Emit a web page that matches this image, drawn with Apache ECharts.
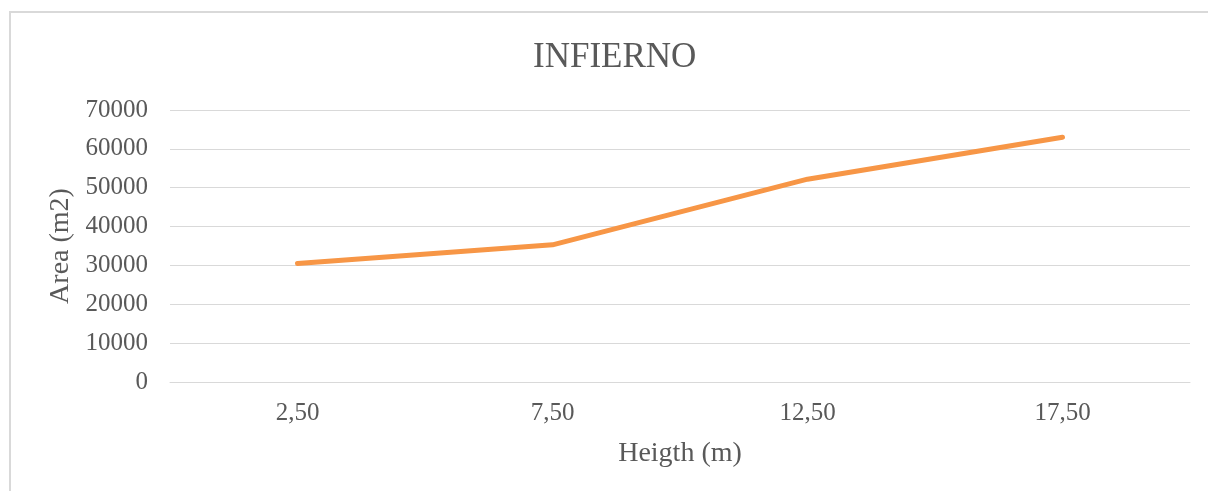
<!DOCTYPE html>
<html>
<head>
<meta charset="utf-8">
<script src="https://cdn.jsdelivr.net/npm/echarts@6/dist/echarts.min.js"></script>
<style>
  html, body { margin: 0; padding: 0; background: #fff; }
  #chart { width: 1208px; height: 491px; }
</style>
</head>
<body>
<div id="chart"></div>
<script>
// Heights (m) along the x axis
const heights = ['2,50', '7,50', '12,50', '17,50'];
// Area (m2) at each height
const areas = [30500, 35300, 52200, 63000];
// Value axis range
const yMin = 0, yMax = 70000, yStep = 10000;

const textColor = '#595959';
const serif = 'Liberation Serif';

const chart = echarts.init(document.getElementById('chart'));
chart.setOption({
  animation: false,
  backgroundColor: '#ffffff',
  title: {
    text: 'INFIERNO',
    left: 528,
    top: 35,
    textStyle: { fontFamily: serif, fontSize: 35, fontWeight: 'normal', color: textColor }
  },
  graphic: [{
    type: 'rect',
    silent: true,
    shape: { x: 10, y: 12, width: 1210, height: 500 },
    style: { fill: 'none', stroke: '#d9d9d9', lineWidth: 2 }
  }],
  grid: { left: 170, right: 18, top: 110, bottom: 109 },
  xAxis: {
    type: 'category',
    data: heights,
    boundaryGap: true,
    name: 'Heigth (m)',
    nameLocation: 'middle',
    nameGap: 58,
    nameTextStyle: { fontFamily: serif, fontSize: 28, color: textColor },
    axisLine: { show: true, lineStyle: { color: '#d9d9d9', width: 1 } },
    axisTick: { show: false },
    axisLabel: { fontFamily: serif, fontSize: 25, color: textColor, margin: 19 }
  },
  yAxis: {
    type: 'value',
    min: yMin,
    max: yMax,
    interval: yStep,
    name: 'Area (m2)',
    nameLocation: 'middle',
    nameGap: 95,
    nameRotate: 90,
    nameTextStyle: { fontFamily: serif, fontSize: 28, color: textColor },
    axisLine: { show: false },
    axisTick: { show: false },
    axisLabel: {
      fontFamily: serif, fontSize: 25, color: textColor, margin: 22,
      formatter: (v) => String(v)
    },
    splitLine: { lineStyle: { color: '#d9d9d9', width: 1 } }
  },
  series: [{
    type: 'line',
    data: areas,
    symbol: 'none',
    lineStyle: { color: '#f79646', width: 5, cap: 'round', join: 'round' },
    itemStyle: { color: '#f79646' }
  }]
});
</script>
</body>
</html>
